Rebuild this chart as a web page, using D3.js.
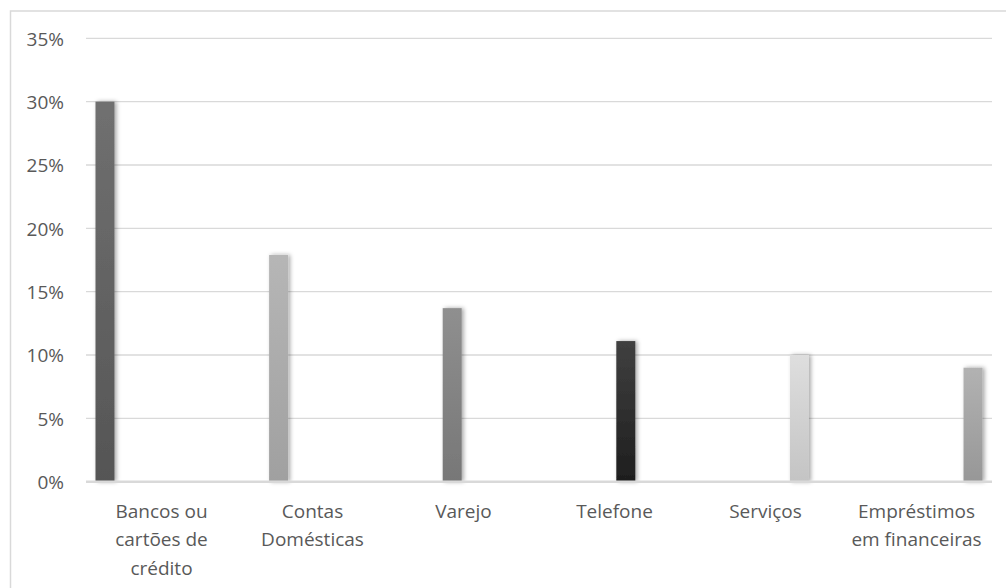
<!DOCTYPE html>
<html>
<head>
<meta charset="utf-8">
<script src="https://cdn.jsdelivr.net/npm/d3@7"></script>
<style>
  html, body { margin: 0; padding: 0; background: #fff; }
  svg { display: block; }
  text { font-family: "Open Sans", Lato, sans-serif; fill: #595959; }
</style>
</head>
<body>
<svg id="chart" width="1006" height="588"></svg>
<script>
// Categories (one series per category, each series holds a single value)
const categories = ["Bancos ou cartões de crédito", "Contas Domésticas", "Varejo", "Telefone", "Serviços", "Empréstimos em financeiras"];
const categoryLines = [["Bancos ou", "cartões de", "crédito"], ["Contas", "Domésticas"], ["Varejo"], ["Telefone"], ["Serviços"], ["Empréstimos", "em financeiras"]];
const values = [0.30, 0.179, 0.137, 0.111, 0.10, 0.09];
const yTicks = [0, 0.05, 0.10, 0.15, 0.20, 0.25, 0.30, 0.35];
const barTop = ["#707070", "#b6b6b6", "#8f8f8f", "#404040", "#dedede", "#b2b2b2"];
const barBottom = ["#555555", "#a0a0a0", "#777777", "#1e1e1e", "#c4c4c4", "#979797"];

const svg = d3.select("#chart");
const defs = svg.append("defs");

// soft shadow behind bars
const f = defs.append("filter").attr("id", "shadow")
  .attr("x", "-60%").attr("y", "-10%").attr("width", "220%").attr("height", "120%");
f.append("feDropShadow").attr("dx", 2).attr("dy", 0).attr("stdDeviation", 2.2)
  .attr("flood-color", "#000").attr("flood-opacity", 0.35);

barTop.forEach((c, i) => {
  const g = defs.append("linearGradient").attr("id", "grad" + i)
    .attr("x1", 0).attr("y1", 0).attr("x2", 0).attr("y2", 1);
  g.append("stop").attr("offset", "0%").attr("stop-color", c);
  g.append("stop").attr("offset", "100%").attr("stop-color", barBottom[i]);
});

// chart frame
svg.append("rect").attr("x", 10.5).attr("y", 11).attr("width", 1010).attr("height", 600)
  .attr("fill", "none").attr("stroke", "#d9d9d9").attr("stroke-width", 1.5);

const plot = { left: 86, right: 992, top: 38.3, bottom: 481.7 };

const x0 = d3.scaleBand().domain(categories).range([plot.left, plot.right]).padding(0);
const x1 = d3.scaleBand().domain(d3.range(categories.length))
  .range([0, x0.bandwidth()]).paddingInner(0.16).paddingOuter(0.42);
const y = d3.scaleLinear().domain([0, 0.35]).range([plot.bottom, plot.top]);

// gridlines
svg.append("g").selectAll("line").data(yTicks.filter(d => d > 0)).join("line")
  .attr("x1", plot.left).attr("x2", plot.right)
  .attr("y1", d => y(d)).attr("y2", d => y(d))
  .attr("stroke", "#d9d9d9").attr("stroke-width", 1.3);

// y axis labels
const yAxis = d3.axisLeft(y).tickValues(yTicks).tickFormat(d3.format(".0%")).tickSize(0).tickPadding(0);
const ya = svg.append("g").attr("transform", `translate(64,0)`).call(yAxis);
ya.select(".domain").remove();
ya.selectAll("text").attr("font-size", 19).attr("dy", "0.36em")
  .style("font-family", null).attr("fill", "#595959");

// bars
svg.append("g").selectAll("rect").data(values).join("rect")
  .attr("x", (d, i) => x0(categories[i]) + x1(i))
  .attr("width", x1.bandwidth())
  .attr("y", d => y(d))
  .attr("height", d => y(0) - y(d))
  .attr("fill", (d, i) => `url(#grad${i})`)
  .attr("filter", "url(#shadow)");

// baseline
svg.append("line").attr("x1", plot.left).attr("x2", plot.right)
  .attr("y1", y(0)).attr("y2", y(0))
  .attr("stroke", "#d9d9d9").attr("stroke-width", 2.5);

// category labels
const xa = svg.append("g").selectAll("text").data(categories).join("text")
  .attr("x", d => x0(d) + x0.bandwidth() / 2)
  .attr("y", 518)
  .attr("text-anchor", "middle")
  .attr("font-size", 19);
xa.each(function(d, i) {
  d3.select(this).selectAll("tspan").data(categoryLines[i]).join("tspan")
    .attr("x", x0(d) + x0.bandwidth() / 2)
    .attr("dy", (t, j) => j === 0 ? 0 : 28.3)
    .text(t => t);
});
</script>
</body>
</html>
